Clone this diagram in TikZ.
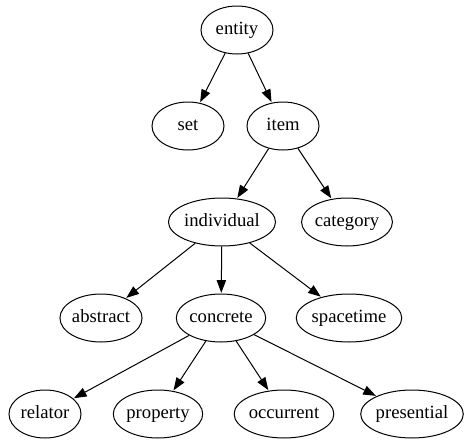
\documentclass[tikz,border=0pt]{standalone}
\usepackage{fontspec}
\setmainfont{Liberation Serif}
\usetikzlibrary{shapes.geometric,arrows.meta}
\tikzset{
	concept/.style={draw, ellipse, line width=0.75pt, minimum width=54pt, minimum height=36pt, inner xsep=0pt, inner ysep=0pt, text height=9pt, text depth=3pt, font=\fontsize{14}{16}\selectfont},
	isa/.style={-{Triangle[length=9.5pt,width=7pt]}, line width=0.75pt, shorten >=0.5pt}
}

\begin{document}
\begin{tikzpicture}[x=0.75pt, y=-0.75pt]
		%%%%% START %%%%%
		\useasboundingbox (0, 0) rectangle (469, 443);
		
		\node[concept] (entity) at (237, 30) {entity};
		
		\node[concept] (set) at (188, 126) {set};
		\node[concept] (item) at (283, 126) {item};
		
		\node[concept] (individual) at (222, 222) {individual};
		\node[concept] (category) at (347, 222) {category};
		
		\node[concept] (abstract) at (101, 318) {abstract};
		\node[concept] (concrete) at (221, 318) {concrete};
		\node[concept] (spacetime) at (349, 318) {spacetime};
		
		\node[concept] (relator) at (45, 414) {relator};
		\node[concept] (property) at (158, 414) {property};
		\node[concept] (occurrent) at (284, 414) {occurrent};
		\node[concept] (presential) at (412, 414) {presential};
		
		\draw[isa] (entity) -- (set);
		\draw[isa] (entity) -- (item);
		\draw[isa] (item) -- (individual);
		\draw[isa] (item) -- (category);
		\draw[isa] (individual) -- (abstract);
		\draw[isa] (individual) -- (concrete);
		\draw[isa] (individual) -- (spacetime);
		\foreach \kind in {relator, property, occurrent, presential}
			\draw[isa] (concrete) -- (\kind);
		%%%%% END %%%%%
	\end{tikzpicture}
\end{document}
